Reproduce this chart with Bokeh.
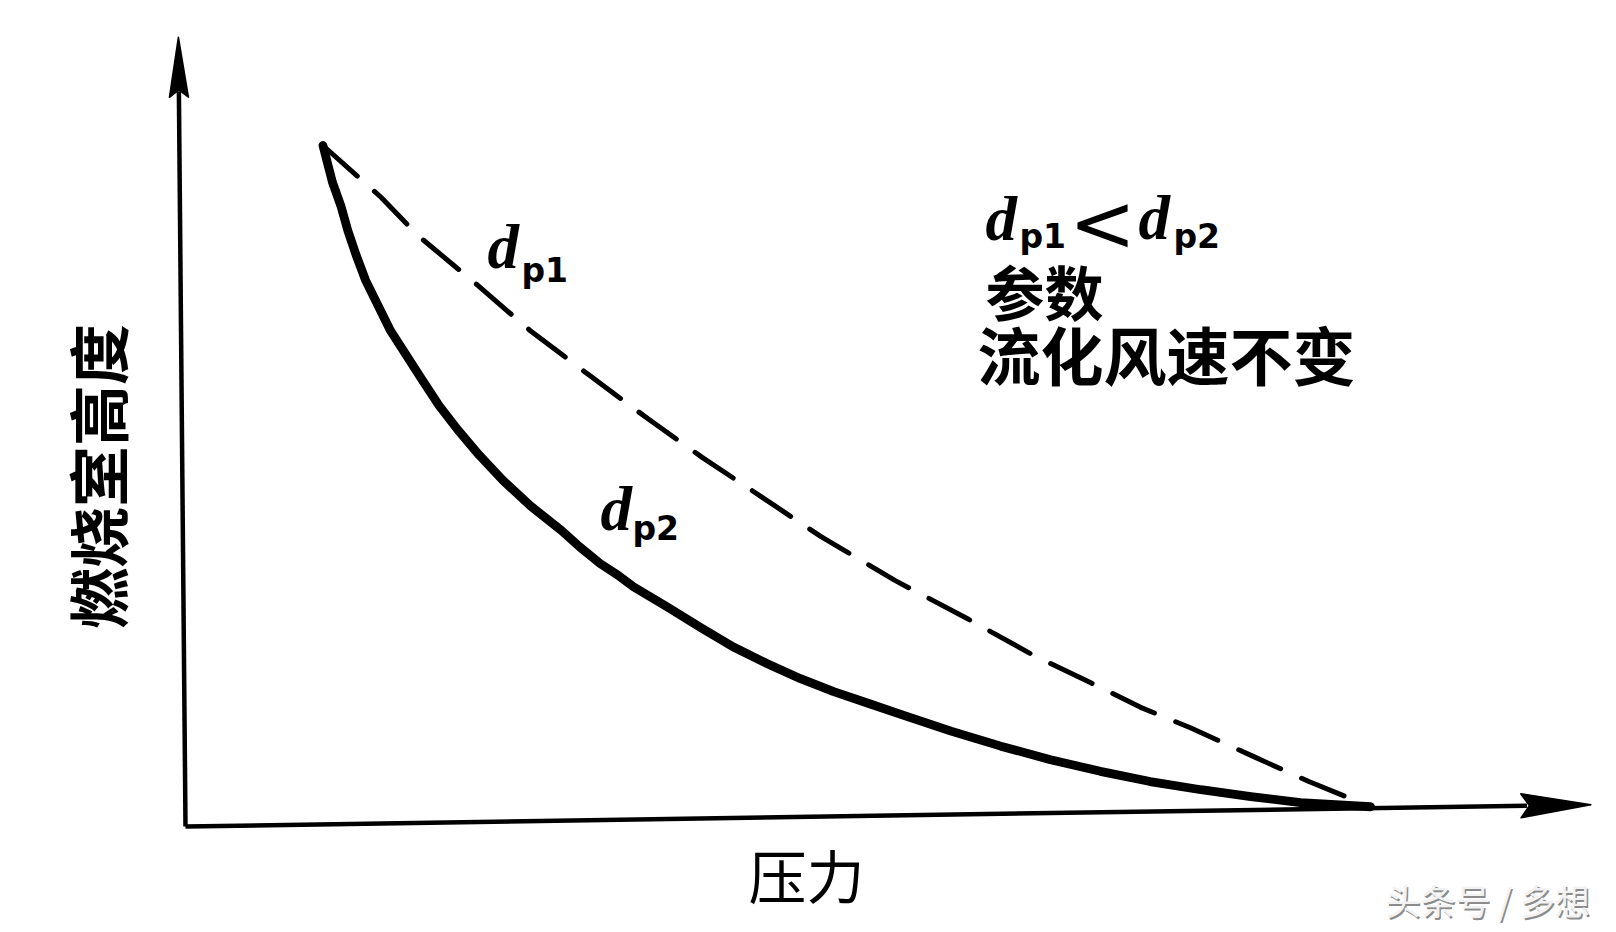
import numpy as np
from bokeh.plotting import figure
from bokeh.models import Range1d
from bokeh.core.properties import value
from bokeh.embed import file_html
from bokeh.resources import INLINE

# ---------------- data (pressure vs. combustion-chamber height, arbitrary units) ----------
# dashed curve: particle size d_p1
dp1_pressure = [11.6, 16.5, 19.6, 24.5, 29.1, 34.2, 39.0, 43.6, 48.7, 53.6,
                59.9, 66.0, 71.6, 76.4, 80.6, 84.8, 90.1, 94.8, 100.0]
dp1_height = [100.0, 92.4, 86.8, 79.7, 72.8, 66.1, 59.9, 54.2, 48.3, 42.6,
              36.1, 30.5, 25.1, 21.1, 17.5, 14.5, 10.3, 6.6, 2.9]
# solid curve: particle size d_p2
dp2_pressure = [11.6, 12.4, 13.1, 13.7, 14.4, 15.2, 17.3, 20.0, 21.4, 23.0,
                24.8, 26.8, 29.1, 31.7, 33.3, 35.0, 36.5, 37.8, 40.7, 43.5,
                46.2, 49.1, 51.9, 54.7, 57.6, 60.3, 64.6, 68.8, 73.0, 77.2,
                81.4, 85.7, 89.9, 94.1, 100.0]
dp2_height = [100.0, 94.6, 91.2, 87.5, 83.9, 80.2, 72.8, 65.5, 61.8, 58.2,
              54.5, 50.8, 47.1, 43.5, 41.0, 38.6, 36.9, 35.2, 32.2, 29.2,
              26.4, 23.9, 21.7, 19.8, 18.1, 16.5, 14.0, 11.8, 9.8, 8.1,
              6.6, 5.4, 4.4, 3.5, 2.9]

# axis extents (arrow tips)
x_axis_tail = (0.0, 0.0)
x_axis_tip = (118.6, 3.2)
y_axis_tail = (0.0, 0.0)
y_axis_tip = (-0.6, 115.9)

x_title = "压力"
y_title = "燃烧室高度"
note_lines = ["参数", "流化风速不变"]
watermark = "头条号 / 多想"

# ---------------- layout helpers (screen pixel <-> data) -----------------------------
X0, SX = 185.0, 11.85   # screen x of pressure 0, px per unit
Y0, SY = 826.0, 6.81    # screen y of height 0, px per unit


def dx(px):
    return (px - X0) / SX


def dy(py):
    return (Y0 - py) / SY


def arrow_head(tail, tip, length, width):
    tx, ty = X0 + tip[0] * SX, Y0 - tip[1] * SY
    sx, sy = X0 + tail[0] * SX, Y0 - tail[1] * SY
    ux, uy = tx - sx, ty - sy
    n = np.hypot(ux, uy)
    ux, uy = ux / n, uy / n
    bx, by = tx - ux * length, ty - uy * length
    nx, ny = -uy, ux
    pts = [(tx, ty), (bx + nx * width / 2, by + ny * width / 2),
           (bx + ux * length * 0.12, by + uy * length * 0.12),
           (bx - nx * width / 2, by - ny * width / 2)]
    xs = [dx(q[0]) for q in pts]
    ys = [dy(q[1]) for q in pts]
    base = (dx(bx + ux * 6), dy(by + uy * 6))
    return xs, ys, base


W, H = 1612, 928
p = figure(width=W, height=H, output_backend="svg", toolbar_location=None,
           x_range=Range1d(dx(0), dx(W)), y_range=Range1d(dy(H), dy(0)),
           min_border=0, min_border_left=0, min_border_right=0,
           min_border_top=0, min_border_bottom=0)
p.axis.visible = False
p.grid.visible = False
p.outline_line_color = None
p.background_fill_color = "white"
p.border_fill_color = "white"

# axes with arrows
for tail, tip, L, Wd in [(x_axis_tail, x_axis_tip, 70, 24), (y_axis_tail, y_axis_tip, 60, 19)]:
    xs, ys, base = arrow_head(tail, tip, L, Wd)
    p.line([tail[0], base[0]], [tail[1], base[1]], line_color="black", line_width=4.5)
    p.patch(xs, ys, fill_color="black", line_color="black", line_width=1.5, line_join="round")

# curves
p.line(dp1_pressure, dp1_height, line_color="black", line_width=5,
       line_dash="46 23", line_cap="round", line_join="round")
p.line(dp2_pressure, dp2_height, line_color="black", line_width=8.8,
       line_cap="round", line_join="round")

serif = value("Liberation Serif")
sans = value("DejaVu Sans")
cjk = value("Noto Sans CJK SC")

# d labels (vertical centres): (d x, d y, sub x, sub y, sub text)
d_labels = [(487, 246, 521, 270, "p1"),
            (600, 508, 632, 528, "p2"),
            (985, 218, 1019, 236, "p1"),
            (1138, 217, 1173, 236, "p2")]
p.text([dx(a[0]) for a in d_labels], [dy(a[1]) for a in d_labels], text=["d"] * len(d_labels),
       text_font=serif, text_font_style="bold italic", text_font_size="63px",
       text_align="left", text_baseline="middle", text_color="black")
p.text([dx(a[2]) for a in d_labels], [dy(a[3]) for a in d_labels], text=[a[4] for a in d_labels],
       text_font=sans, text_font_style="bold", text_font_size="33px",
       text_align="left", text_baseline="middle", text_color="black")
p.text([dx(1102)], [dy(223)], text=["<"], text_font=value("DejaVu Sans"),
       text_font_style="normal", text_font_size="80px",
       text_align="center", text_baseline="middle", text_color="black")

# notes
p.text([dx(985)], [dy(290)], text=[note_lines[0]], text_font=cjk, text_font_style="bold",
       text_font_size="59px", text_align="left", text_baseline="middle", text_color="black")
p.text([dx(977)], [dy(352)], text=[note_lines[1]], text_font=cjk, text_font_style="bold",
       text_font_size="63px", text_align="left", text_baseline="middle", text_color="black")

# axis titles
p.text([dx(96)], [dy(476)], text=[y_title], angle=np.pi / 2, text_font=cjk,
       text_font_style="bold", text_font_size="61px", text_align="center",
       text_baseline="middle", text_color="black")
p.text([dx(806)], [dy(873)], text=[x_title], text_font=cjk, text_font_style="normal",
       text_font_size="58px", text_align="center", text_baseline="middle", text_color="black")

# watermark
p.text([dx(1386.5)], [dy(900.5)], text=[watermark], text_font=cjk, text_font_size="35px",
       text_align="left", text_baseline="middle", text_color="#8c8c8c")
p.text([dx(1385)], [dy(899)], text=[watermark], text_font=cjk, text_font_size="35px",
       text_align="left", text_baseline="middle", text_color="#f2f2f2")

open("out.html", "w").write(file_html(p, INLINE))
